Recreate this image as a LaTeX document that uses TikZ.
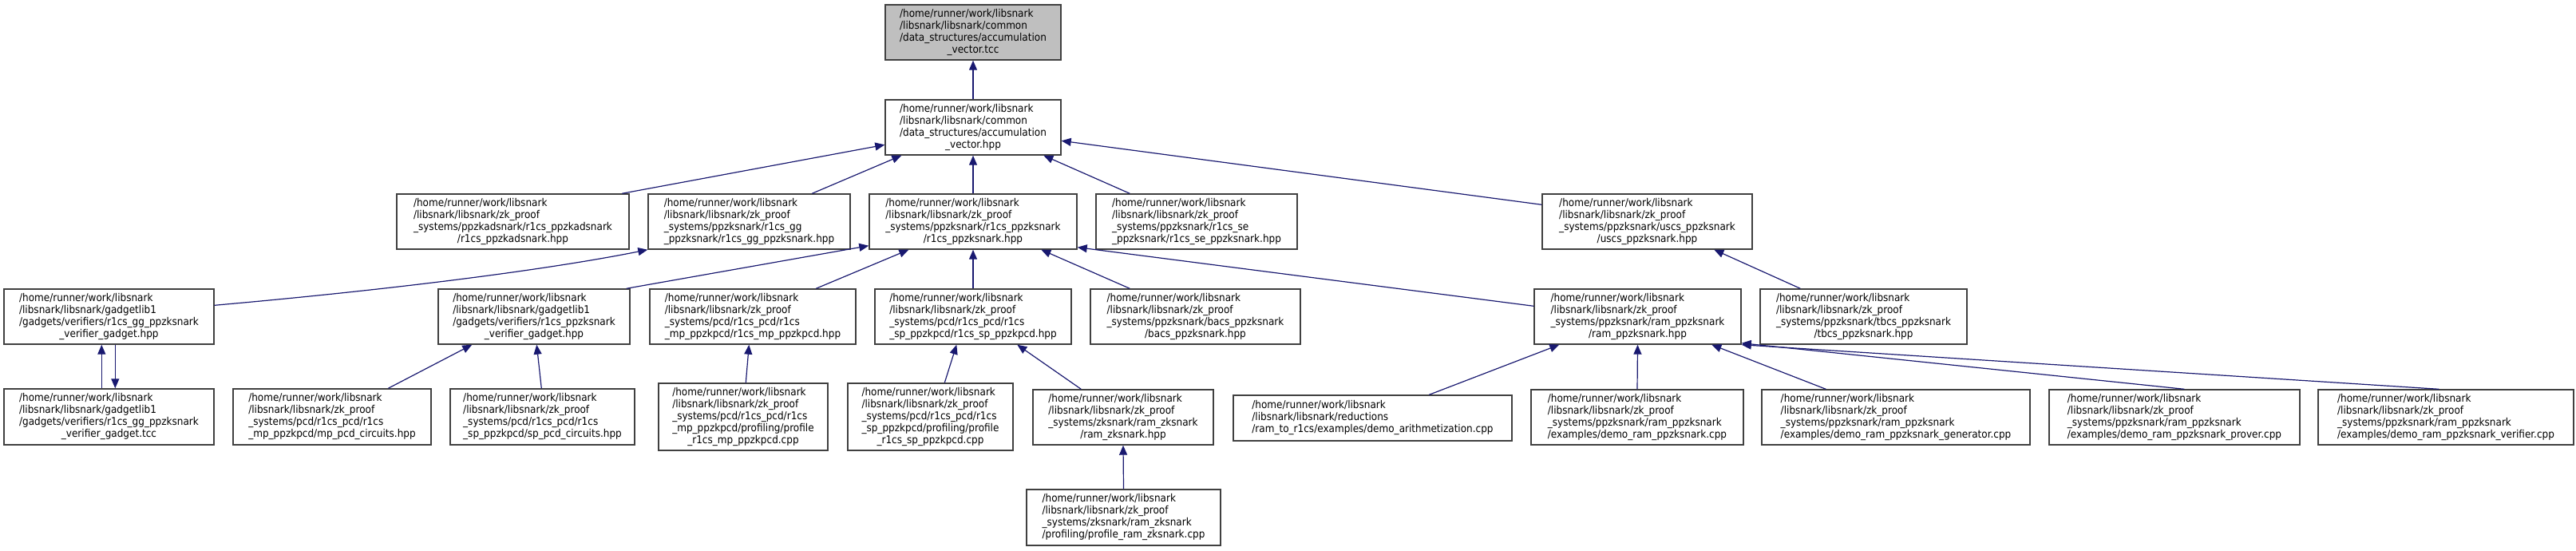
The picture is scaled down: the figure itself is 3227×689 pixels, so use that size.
\documentclass[tikz,border=0pt]{standalone}
\usepackage{fontspec}
\setmainfont{DejaVu Sans Condensed}
\usetikzlibrary{positioning,arrows.meta,calc}
\definecolor{edgeblue}{RGB}{25,25,112}
\definecolor{rootgrey}{RGB}{191,191,191}
\definecolor{boxline}{RGB}{64,64,64}
% label of one file: left-aligned lines, last line centred
\newcommand{\flabel}[2]{\begin{tabular}{@{}l@{}}#1\\\multicolumn{1}{@{}c@{}}{#2}\end{tabular}}
\tikzset{
  fig/.style={font=\fontsize{13.4}{15}\selectfont},
  filebox/.style={draw=boxline,line width=1.4pt,fill=white,inner sep=0pt,align=center},
  rootbox/.style={filebox,fill=rootgrey},
  sz/.style 2 args={minimum width=#1pt,minimum height=#2pt},
  ln/.style={-{Triangle[length=12pt,width=10pt]},draw=edgeblue,line width=1.2pt},
}

\begin{document}
\begin{tikzpicture}[fig,x=1pt,y=-1pt]
\useasboundingbox (0,0) rectangle (3227,689);

\node[rootbox,sz={220}{69}] (tcc) at (1219,40.5) {\flabel{/home/runner/work/libsnark\\/libsnark/libsnark/common\\/data\_structures/accumulation}{\_vector.tcc}};
\node[filebox,sz={220}{69}] (acc) at (1219,159.5) {\flabel{/home/runner/work/libsnark\\/libsnark/libsnark/common\\/data\_structures/accumulation}{\_vector.hpp}};

% row 2
\node[filebox,sz={291}{69}] (kad) at (642.5,277.5) {\flabel{/home/runner/work/libsnark\\/libsnark/libsnark/zk\_proof\\\_systems/ppzkadsnark/r1cs\_ppzkadsnark}{/r1cs\_ppzkadsnark.hpp}};
\node[filebox,sz={253}{69}] (gg) at (938.5,277.5) {\flabel{/home/runner/work/libsnark\\/libsnark/libsnark/zk\_proof\\\_systems/ppzksnark/r1cs\_gg}{\_ppzksnark/r1cs\_gg\_ppzksnark.hpp}};
\node[filebox,sz={260}{69}] (r1cs) at (1219,277.5) {\flabel{/home/runner/work/libsnark\\/libsnark/libsnark/zk\_proof\\\_systems/ppzksnark/r1cs\_ppzksnark}{/r1cs\_ppzksnark.hpp}};
\node[filebox,sz={252}{69}] (se) at (1499,277.5) {\flabel{/home/runner/work/libsnark\\/libsnark/libsnark/zk\_proof\\\_systems/ppzksnark/r1cs\_se}{\_ppzksnark/r1cs\_se\_ppzksnark.hpp}};
\node[filebox,sz={263}{69}] (uscs) at (2063.5,277.5) {\flabel{/home/runner/work/libsnark\\/libsnark/libsnark/zk\_proof\\\_systems/ppzksnark/uscs\_ppzksnark}{/uscs\_ppzksnark.hpp}};

% row 3
\node[filebox,sz={263}{69}] (ggv) at (136.5,396.5) {\flabel{/home/runner/work/libsnark\\/libsnark/libsnark/gadgetlib1\\/gadgets/verifiers/r1cs\_gg\_ppzksnark}{\_verifier\_gadget.hpp}};
\node[filebox,sz={240}{69}] (rv) at (669,396.5) {\flabel{/home/runner/work/libsnark\\/libsnark/libsnark/gadgetlib1\\/gadgets/verifiers/r1cs\_ppzksnark}{\_verifier\_gadget.hpp}};
\node[filebox,sz={258}{69}] (mp) at (943,396.5) {\flabel{/home/runner/work/libsnark\\/libsnark/libsnark/zk\_proof\\\_systems/pcd/r1cs\_pcd/r1cs}{\_mp\_ppzkpcd/r1cs\_mp\_ppzkpcd.hpp}};
\node[filebox,sz={246}{69}] (sp) at (1219,396.5) {\flabel{/home/runner/work/libsnark\\/libsnark/libsnark/zk\_proof\\\_systems/pcd/r1cs\_pcd/r1cs}{\_sp\_ppzkpcd/r1cs\_sp\_ppzkpcd.hpp}};
\node[filebox,sz={263}{69}] (bacs) at (1497.5,396.5) {\flabel{/home/runner/work/libsnark\\/libsnark/libsnark/zk\_proof\\\_systems/ppzksnark/bacs\_ppzksnark}{/bacs\_ppzksnark.hpp}};
\node[filebox,sz={259}{69}] (ram) at (2051.5,396.5) {\flabel{/home/runner/work/libsnark\\/libsnark/libsnark/zk\_proof\\\_systems/ppzksnark/ram\_ppzksnark}{/ram\_ppzksnark.hpp}};
\node[filebox,sz={259}{69}] (tbcs) at (2334.5,396.5) {\flabel{/home/runner/work/libsnark\\/libsnark/libsnark/zk\_proof\\\_systems/ppzksnark/tbcs\_ppzksnark}{/tbcs\_ppzksnark.hpp}};

% row 4
\node[filebox,sz={263}{70}] (ggt) at (136.5,522) {\flabel{/home/runner/work/libsnark\\/libsnark/libsnark/gadgetlib1\\/gadgets/verifiers/r1cs\_gg\_ppzksnark}{\_verifier\_gadget.tcc}};
\node[filebox,sz={248}{70}] (mpc) at (416,522) {\flabel{/home/runner/work/libsnark\\/libsnark/libsnark/zk\_proof\\\_systems/pcd/r1cs\_pcd/r1cs}{\_mp\_ppzkpcd/mp\_pcd\_circuits.hpp}};
\node[filebox,sz={231}{70}] (spc) at (679.5,522) {\flabel{/home/runner/work/libsnark\\/libsnark/libsnark/zk\_proof\\\_systems/pcd/r1cs\_pcd/r1cs}{\_sp\_ppzkpcd/sp\_pcd\_circuits.hpp}};
\node[filebox,sz={212}{84}] (pmp) at (931,522) {\flabel{/home/runner/work/libsnark\\/libsnark/libsnark/zk\_proof\\\_systems/pcd/r1cs\_pcd/r1cs\\\_mp\_ppzkpcd/profiling/profile}{\_r1cs\_mp\_ppzkpcd.cpp}};
\node[filebox,sz={207}{84}] (psp) at (1165.5,522) {\flabel{/home/runner/work/libsnark\\/libsnark/libsnark/zk\_proof\\\_systems/pcd/r1cs\_pcd/r1cs\\\_sp\_ppzkpcd/profiling/profile}{\_r1cs\_sp\_ppzkpcd.cpp}};
\node[filebox,sz={226}{69}] (rz) at (1407,522.5) {\flabel{/home/runner/work/libsnark\\/libsnark/libsnark/zk\_proof\\\_systems/zksnark/ram\_zksnark}{/ram\_zksnark.hpp}};
\node[filebox,sz={349}{57}] (da) at (1719.5,523.5) {\flabel{/home/runner/work/libsnark\\/libsnark/libsnark/reductions}{/ram\_to\_r1cs/examples/demo\_arithmetization.cpp}};
\node[filebox,sz={266}{69}] (dr) at (2051,522.5) {\flabel{/home/runner/work/libsnark\\/libsnark/libsnark/zk\_proof\\\_systems/ppzksnark/ram\_ppzksnark}{/examples/demo\_ram\_ppzksnark.cpp}};
\node[filebox,sz={336}{69}] (gen) at (2375,522.5) {\flabel{/home/runner/work/libsnark\\/libsnark/libsnark/zk\_proof\\\_systems/ppzksnark/ram\_ppzksnark}{/examples/demo\_ram\_ppzksnark\_generator.cpp}};
\node[filebox,sz={314}{69}] (prv) at (2724,522.5) {\flabel{/home/runner/work/libsnark\\/libsnark/libsnark/zk\_proof\\\_systems/ppzksnark/ram\_ppzksnark}{/examples/demo\_ram\_ppzksnark\_prover.cpp}};
\node[filebox,sz={320}{69}] (ver) at (3064,522.5) {\flabel{/home/runner/work/libsnark\\/libsnark/libsnark/zk\_proof\\\_systems/ppzksnark/ram\_ppzksnark}{/examples/demo\_ram\_ppzksnark\_verifier.cpp}};

% row 5
\node[filebox,sz={243}{70}] (prz) at (1407.5,648) {\flabel{/home/runner/work/libsnark\\/libsnark/libsnark/zk\_proof\\\_systems/zksnark/ram\_zksnark}{/profiling/profile\_ram\_zksnark.cpp}};

% straight includes
\foreach \a/\b in {acc/tcc,r1cs/acc,sp/r1cs,prz/rz,dr/ram}
  \draw[ln] (\a.north) -- (\b.south);

\draw[ln] ($(kad.north west)+(283,0)$) -- ($(acc.north west)+(0,57)$);
\draw[ln] ($(gg.north west)+(206,0)$) -- ($(acc.south west)+(21,0)$);
\draw[ln] ($(se.north west)+(43,0)$) -- ($(acc.south west)+(199,0)$);
\draw[ln] ($(uscs.north west)+(0,14)$) -- ($(acc.north east)+(0,52)$);

\draw[ln] ($(ggv.north east)+(0,21)$) .. controls (520,360) and (700,335) .. (gg.south west);
\draw[ln] ($(rv.north east)+(-5,0)$) -- ($(r1cs.south west)+(0,-5)$);
\draw[ln] ($(mp.north west)+(209,0)$) -- ($(r1cs.south west)+(50,0)$);
\draw[ln] ($(bacs.north west)+(50,0)$) -- ($(r1cs.south west)+(216,0)$);
\draw[ln] ($(ram.north west)+(0,22)$) -- ($(r1cs.south east)+(0,-3)$);
\draw[ln] ($(tbcs.north west)+(51,0)$) -- ($(uscs.south west)+(216,0)$);

\draw[ln] ($(ggt.north west)+(123,0)$) -- ($(ggv.south west)+(123,0)$);
\draw[ln] ($(ggv.south west)+(140,0)$) -- ($(ggt.north west)+(140,0)$);
\draw[ln] ($(mpc.north west)+(195,0)$) -- ($(rv.south west)+(43,0)$);
\draw[ln] ($(spc.north west)+(115,0)$) -- ($(rv.south west)+(124,0)$);
\draw[ln] ($(pmp.north west)+(110,0)$) -- ($(mp.south west)+(125,0)$);
\draw[ln] ($(psp.north west)+(122,0)$) -- ($(sp.south west)+(103,0)$);
\draw[ln] ($(rz.north west)+(61,0)$) -- ($(sp.south west)+(179,0)$);

\draw[ln] ($(da.north west)+(246,0)$) -- ($(ram.south west)+(32,0)$);
\draw[ln] ($(gen.north west)+(81,0)$) -- ($(ram.south west)+(223,0)$);
\draw[ln] ($(prv.north west)+(170,0)$) -- ($(ram.south east)+(0,-2)$);
\draw[ln] ($(ver.north west)+(152,0)$) -- ($(ram.south east)+(0,0)$);

\end{tikzpicture}
\end{document}
